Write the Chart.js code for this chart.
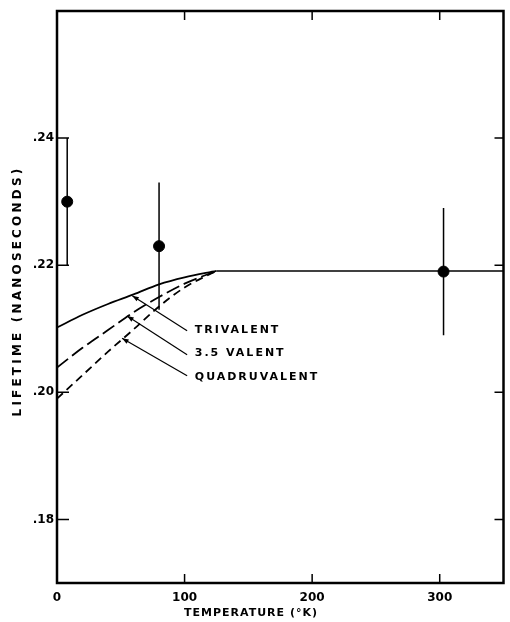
<!DOCTYPE html>
<html>
<head>
<meta charset="utf-8">
<script src="https://cdn.jsdelivr.net/npm/chart.js@4.4.1/dist/chart.umd.min.js"></script>
<style>
  body { margin: 0; background: #fff; }
  #wrap { width: 510px; height: 622px; }
</style>
</head>
<body>
<div id="wrap"><canvas id="lifeChart" width="510" height="622"></canvas></div>
<script>
// measured points (temperature K, lifetime ns) with error bars
const measT = [8, 80, 303];
const measLife = [0.230, 0.223, 0.219];
const measErr = [0.010, 0.0100, 0.010];

// calculated curves
const curveT = [0, 20, 40, 60, 80, 100, 125];
const triLife = [0.2102, 0.2122, 0.2139, 0.2154, 0.2170, 0.2181, 0.2191];
const halfLife = [0.2039, 0.2070, 0.2098, 0.2126, 0.2150, 0.2171, 0.2191];
const quadLife = [0.1990, 0.2027, 0.2064, 0.2099, 0.2135, 0.2165, 0.2191];
const plateauT = [125, 350];
const plateauLife = [0.2191, 0.2191];

const xTicks = [0, 100, 200, 300];
const yTicks = [0.18, 0.20, 0.22, 0.24];

// curve labels and arrows (tip on the curve, tail at the label)
const labelText = ["TRIVALENT", "3.5 VALENT", "QUADRUVALENT"];
const labelPos = [[108, 0.2098], [108, 0.2062], [108, 0.2024]];
const arrows = [[59, 0.2152], [55, 0.2120], [51, 0.2085]];
const arrowTail = [[102, 0.2097], [102, 0.2059], [102, 0.2026]];

function pts(xs, ys) {
    return xs.map(function (x, i) { return { x: x, y: ys[i] }; });
}

const FONT = "'DejaVu Sans', sans-serif";

const extras = {
    id: "extras",
    afterDatasetsDraw: function (chart) {
        const ctx = chart.ctx;
        const a = chart.chartArea;
        const xs = chart.scales.x, ys = chart.scales.y;
        ctx.save();
        ctx.strokeStyle = "#000";
        ctx.fillStyle = "#000";

        // frame
        ctx.lineWidth = 2.5;
        ctx.strokeRect(a.left, a.top, a.right - a.left, a.bottom - a.top);

        // inward ticks on all four sides
        ctx.lineWidth = 1.5;
        ctx.beginPath();
        xs.ticks.forEach(function (t) {
            const px = xs.getPixelForValue(t.value);
            if (t.value === 0) return;
            ctx.moveTo(px, a.bottom); ctx.lineTo(px, a.bottom - 9);
            ctx.moveTo(px, a.top); ctx.lineTo(px, a.top + 9);
        });
        ys.ticks.forEach(function (t) {
            const py = ys.getPixelForValue(t.value);
            ctx.moveTo(a.left, py); ctx.lineTo(a.left + 12, py);
            ctx.moveTo(a.right, py); ctx.lineTo(a.right - 9, py);
        });
        ctx.stroke();

        // error bars
        ctx.lineWidth = 1.5;
        ctx.beginPath();
        measT.forEach(function (t, i) {
            const px = xs.getPixelForValue(t);
            ctx.moveTo(px, ys.getPixelForValue(measLife[i] + measErr[i]));
            ctx.lineTo(px, ys.getPixelForValue(measLife[i] - measErr[i]));
        });
        ctx.stroke();

        // arrows
        ctx.lineWidth = 1.2;
        arrows.forEach(function (tip, i) {
            const x1 = xs.getPixelForValue(arrowTail[i][0]), y1 = ys.getPixelForValue(arrowTail[i][1]);
            const x2 = xs.getPixelForValue(tip[0]), y2 = ys.getPixelForValue(tip[1]);
            ctx.beginPath();
            ctx.moveTo(x1, y1); ctx.lineTo(x2, y2);
            ctx.stroke();
            const ang = Math.atan2(y2 - y1, x2 - x1);
            ctx.beginPath();
            ctx.moveTo(x2, y2);
            ctx.lineTo(x2 - 7 * Math.cos(ang - 0.35), y2 - 7 * Math.sin(ang - 0.35));
            ctx.lineTo(x2 - 7 * Math.cos(ang + 0.35), y2 - 7 * Math.sin(ang + 0.35));
            ctx.closePath();
            ctx.fill();
        });

        // curve labels
        ctx.font = "bold 11px " + FONT;
        ctx.letterSpacing = "2px";
        ctx.textAlign = "left";
        ctx.textBaseline = "middle";
        labelText.forEach(function (s, i) {
            ctx.fillText(s, xs.getPixelForValue(labelPos[i][0]), ys.getPixelForValue(labelPos[i][1]));
        });

        // axis titles
        ctx.font = "bold 11px " + FONT;
        ctx.letterSpacing = "1px";
        ctx.textAlign = "center";
        ctx.fillText("TEMPERATURE (°K)", 251, 613);
        ctx.translate(18, 293);
        ctx.rotate(-Math.PI / 2);
        ctx.font = "bold 12px " + FONT;
        ctx.letterSpacing = "3.2px";
        ctx.fillText("LIFETIME (NANOSECONDS)", 2, 0);
        ctx.restore();
    }
};

const ctx = document.getElementById("lifeChart").getContext("2d");
new Chart(ctx, {
    type: "scatter",
    data: {
        datasets: [
            {
                label: "measured",
                data: pts(measT, measLife),
                backgroundColor: "#000",
                borderColor: "#000",
                pointRadius: 5.5,
                showLine: false
            },
            {
                label: "Trivalent",
                data: pts(curveT, triLife),
                borderColor: "#000",
                borderWidth: 1.8,
                pointRadius: 0,
                showLine: true,
                cubicInterpolationMode: "monotone"
            },
            {
                label: "3.5 Valent",
                data: pts(curveT, halfLife),
                borderColor: "#000",
                borderWidth: 1.8,
                borderDash: [14, 5],
                pointRadius: 0,
                showLine: true,
                cubicInterpolationMode: "monotone"
            },
            {
                label: "Quadruvalent",
                data: pts(curveT, quadLife),
                borderColor: "#000",
                borderWidth: 1.8,
                borderDash: [8, 5],
                pointRadius: 0,
                showLine: true,
                cubicInterpolationMode: "monotone"
            },
            {
                label: "plateau",
                data: pts(plateauT, plateauLife),
                borderColor: "#000",
                borderWidth: 1.6,
                pointRadius: 0,
                showLine: true
            }
        ]
    },
    options: {
        responsive: false,
        animation: false,
        layout: { padding: { top: 11, right: 5, left: 0, bottom: 0 } },
        plugins: { legend: { display: false }, tooltip: { enabled: false } },
        scales: {
            x: {
                type: "linear",
                min: 0,
                max: 350,
                afterBuildTicks: function (s) { s.ticks = xTicks.map(function (v) { return { value: v }; }); },
                afterFit: function (s) { s.height = 39; },
                grid: { display: false, drawTicks: false },
                border: { display: false },
                ticks: { color: "#000", padding: 8, maxRotation: 0, font: { family: FONT, size: 12, weight: "bold" } }
            },
            y: {
                min: 0.17,
                max: 0.26,
                afterBuildTicks: function (s) { s.ticks = yTicks.map(function (v) { return { value: v }; }); },
                afterFit: function (s) { s.width = 57; },
                grid: { display: false, drawTicks: false },
                border: { display: false },
                ticks: {
                    color: "#000",
                    padding: 3,
                    font: { family: FONT, size: 12, weight: "bold" },
                    callback: function (v) { return "." + Math.round(v * 100); }
                }
            }
        }
    },
    plugins: [extras]
});
</script>
</body>
</html>
